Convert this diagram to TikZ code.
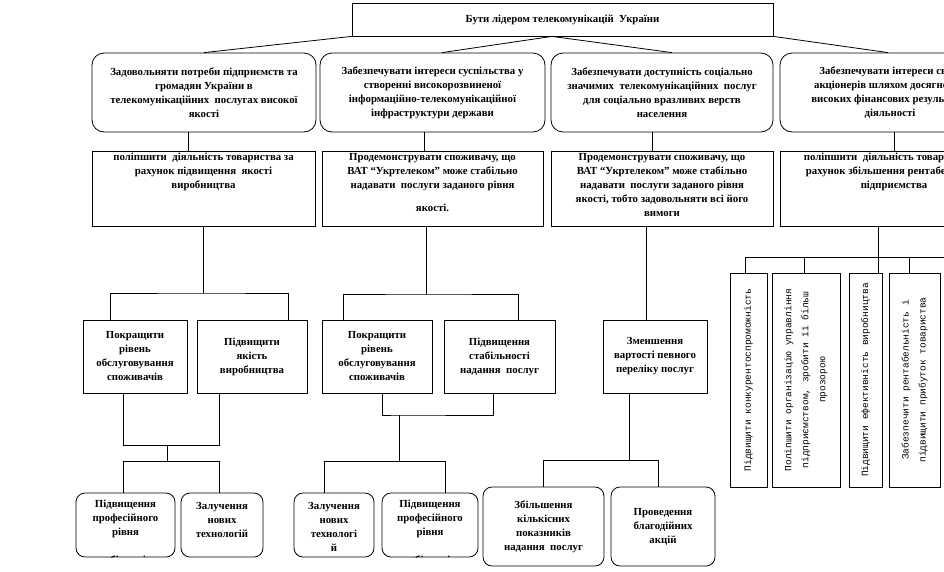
\documentclass[tikz,border=0pt]{standalone}
\usepackage{fontspec}
\setmainfont{Liberation Serif}
\newfontfamily\vfont{Liberation Mono}
\newcommand\boxC[3]{\parbox[c][#2][c]{#1}{\centering #3\par}}
\newcommand\boxT[4]{\parbox[c][#2][t]{#1}{\centering\vspace*{#3}#4\par}}
\begin{document}
\begin{tikzpicture}[x=1pt,y=-1pt,
  bx/.style={draw, line width=0.8pt, inner sep=0pt, fill=white,
    font=\bfseries\fontsize{10.8}{14}\selectfont},
  rbx/.style={bx, rounded corners=12pt},
  sbx/.style={bx, rounded corners=9pt},
  vbx/.style={draw, line width=0.8pt, inner sep=0pt, rotate=90,
    font=\vfont\fontsize{9.5}{17}\selectfont},
  conn/.style={line width=0.8pt}]
\useasboundingbox (0,0) rectangle (944,571);
\clip (0,0) rectangle (944,571);

% top
\node[bx] (top) at (562.5,19.5) {\boxC{421pt}{33pt}{Бути лідером телекомунікацій\ \ України}};

% level 1
\node[rbx] (B1) at (204,92.5) {\boxC{224pt}{79pt}{Задовольняти потреби підприємств та\\ громадян України в\\ телекомунікаційних\ \ послугах високої\\ якості}};
\node[rbx] (B2) at (432.5,92.5) {\boxC{225pt}{79pt}{Забезпечувати інтереси суспільства у\\ створенні високорозвиненої\\ інформаційно-телекомунікаційної\\ інфраструктури держави}};
\node[rbx] (B3) at (662,92.5) {\boxC{222pt}{79pt}{Забезпечувати доступність соціально\\ значимих\ \ телекомунікаційних\ \ послуг\\ для соціально вразливих верств\\ населення}};
\node[rbx] (B4) at (890,92.5) {\boxC{220pt}{79pt}{Забезпечувати інтереси своїх\\ акціонерів шляхом досягнення\\ високих фінансових результатів\\ діяльності}};

% level 2
\node[bx] (L2a) at (203.5,188.5) {\boxT{223pt}{75pt}{2pt}{поліпшити\ \ діяльність товариства за\\ рахунок підвищення\ \ якості\\ виробництва}};
\node[bx] (L2b) at (432.5,188.5) {\boxT{221pt}{75pt}{2pt}{Продемонструвати споживачу, що\\ ВАТ “Укртелеком” може стабільно\\ надавати\ \ послуги заданого рівня\\[9pt] якості.}};
\node[bx] (L2c) at (662,188.5) {\boxT{222pt}{75pt}{2pt}{Продемонструвати споживачу, що\\ ВАТ “Укртелеком” може стабільно\\ надавати\ \ послуги заданого рівня\\ якості, тобто задовольняти всі його\\ вимоги}};
\node[bx] (L2d) at (894,188.5) {\boxT{228pt}{75pt}{2pt}{поліпшити\ \ діяльність товариства за\\ рахунок збільшення рентабельності\\ підприємства}};

% level 3
\node[bx] (A) at (135,356.5) {\boxC{104pt}{73pt}{Покращити\\ рівень\\ обслуговування\\ споживачів}};
\node[bx] (B) at (252,356.5) {\boxC{110pt}{73pt}{Підвищити\\ якість\\ виробництва}};
\node[bx] (C) at (377,356.5) {\boxC{110pt}{73pt}{Покращити\\ рівень\\ обслуговування\\ споживачів}};
\node[bx] (D) at (499.5,356.5) {\boxC{111pt}{73pt}{Підвищення\\ стабільності\\ надання\ \ послуг}};
\node[bx] (E) at (655,356.5) {\boxC{104pt}{73pt}{Зменшення\\ вартості певного\\ переліку послуг}};

% vertical boxes
\node[vbx] (V1) at (748.5,380) {\boxC{214pt}{37pt}{Підвищити конкурентоспроможність}};
\node[vbx] (V2) at (806,380) {\boxC{214pt}{68pt}{Поліпшити організацію управління\\ підприємством, зробити її більш\\ прозорою}};
\node[vbx] (V3) at (865.5,380) {\boxC{214pt}{33pt}{Підвищити ефективність виробництва}};
\node[vbx] (V4) at (914.5,380) {\boxC{214pt}{51pt}{Забезпечити рентабельність і\\ підвищити прибуток товариства}};

% bottom rounded
\node[sbx] (G) at (125.5,525) {\boxT{99pt}{64pt}{7pt}{Підвищення\\ професійного\\ рівня}};
\node[sbx] (H) at (222,525) {\boxT{82pt}{64pt}{9pt}{Залучення\\ нових\\ технологій}};
\node[sbx] (I) at (334,525) {\boxT{80pt}{64pt}{9pt}{Залучення\\ нових\\ технологі\\ й}};
\node[sbx] (J) at (430,525) {\boxT{96pt}{64pt}{7pt}{Підвищення\\ професійного\\ рівня}};
\node[sbx] (F) at (543.5,526.5) {\boxC{121pt}{79pt}{Збільшення\\ кількісних\\ показників\\ надання\ \ послуг}};
\node[sbx] (K) at (663,526.5) {\boxC{104pt}{79pt}{Проведення\\ благодійних\\ акцій}};

\begin{scope}
\clip (G.north west) rectangle (G.south east);
\node[font=\bfseries\fontsize{10.8}{14}\selectfont, anchor=base] (rG) at (125.5,563) {робітників};
\end{scope}
\begin{scope}
\clip (J.north west) rectangle (J.south east);
\node[font=\bfseries\fontsize{10.8}{14}\selectfont, anchor=base] (rJ) at (430,563) {робітників};
\end{scope}

% junction coordinates
\coordinate (j1) at (203.5,293);
\coordinate (j1b) at (167,445);
\coordinate (j1c) at (167,461);
\coordinate (j2) at (426,294);
\coordinate (j2b) at (399,415);
\coordinate (j2c) at (399,461);
\coordinate (j3) at (629,460);
\coordinate (j4) at (878,257);
\coordinate (j4e) at (960,257);

% connectors top -> level 1
\draw[conn] (top.south west) -- (B1.north);
\draw[conn] (top.south -| 552,0) -- (B2.north -| 442,0);
\draw[conn] (top.south -| 552,0) -- (B3.north -| 672,0);
\draw[conn] (top.south east) -- (B4.north -| 888,0);

% level 1 -> level 2
\draw[conn] (B1.south -| 188,0) -- (L2a.north -| 188,0);
\draw[conn] (B2.south -| 424,0) -- (L2b.north -| 424,0);
\draw[conn] (B3.south -| 652,0) -- (L2c.north -| 652,0);
\draw[conn] (B4.south -| 894,0) -- (L2d.north -| 894,0);

% column 1
\draw[conn] (L2a.south) -- (j1);
\draw[conn] (A.north -| 110,0) |- (j1) -| (B.north -| 288,0);
\draw[conn] (A.south -| 123,0) |- (j1b) -| (B.south -| 219,0);
\draw[conn] (j1b) -- (j1c);
\draw[conn] (G.north -| 123,0) |- (j1c) -| (H.north -| 219,0);

% column 2
\draw[conn] (L2b.south -| 426,0) -- (j2);
\draw[conn] (C.north -| 343,0) |- (j2) -| (D.north -| 518,0);
\draw[conn] (C.south -| 382,0) |- (j2b) -| (D.south -| 493,0);
\draw[conn] (j2b) -- (j2c);
\draw[conn] (I.north -| 324,0) |- (j2c) -| (J.north -| 445,0);

% column 3
\draw[conn] (L2c.south -| 646,0) -- (E.north -| 646,0);
\draw[conn] (E.south -| 629,0) -- (j3);
\draw[conn] (F.north) |- (j3) -| (K.north -| 658,0);

% column 4
\draw[conn] (L2d.south -| 878,0) -- (V3.east -| 878,0);
\draw[conn] (V1.east -| 745,0) |- (j4e);
\draw[conn] (V2.east -| 804,0) -- (j4 -| 804,0);
\draw[conn] (V4.east -| 909,0) -- (j4 -| 909,0);
\end{tikzpicture}
\end{document}
